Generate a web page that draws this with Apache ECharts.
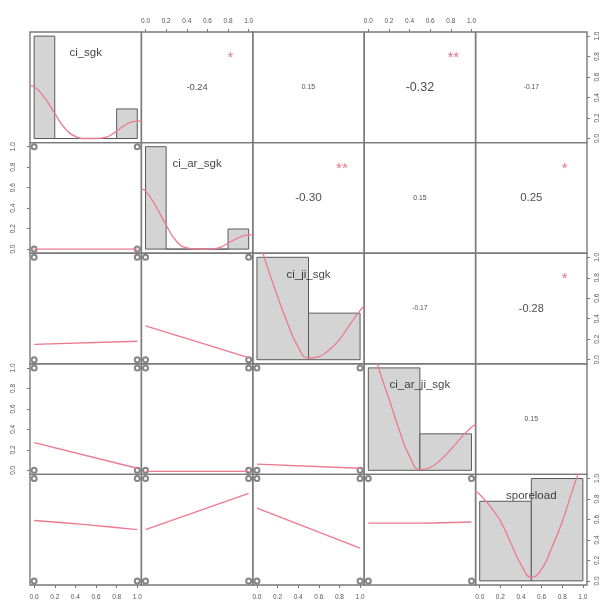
<!DOCTYPE html>
<html><head><meta charset="utf-8">
<script src="https://cdn.jsdelivr.net/npm/echarts@6/dist/echarts.min.js"></script>
<style>html,body{margin:0;padding:0;background:#fff}#c{width:604px;height:603px}</style>
</head><body><div id="c"></div>
<script>
// ---------------- data ----------------
const variables = ['ci_sgk', 'ci_ar_sgk', 'ci_ji_sgk', 'ci_ar_ji_sgk', 'sporeload'];
const tickValues = [0, 0.2, 0.4, 0.6, 0.8, 1.0];
const tickLabels = ['0.0', '0.2', '0.4', '0.6', '0.8', '1.0'];

// histogram breaks and densities (diagonal)
const histBreaks = [
  [0, 0.2, 0.4, 0.6, 0.8, 1.0],
  [0, 0.2, 0.4, 0.6, 0.8, 1.0],
  [0, 0.5, 1.0],
  [0, 0.5, 1.0],
  [0, 0.5, 1.0]
];
const histDensity = [
  [3.88, 0, 0, 0, 1.12],
  [4.18, 0, 0, 0, 0.82],
  [1.375, 0.625],
  [1.475, 0.525],
  [0.875, 1.125]
];
// kernel density curves [x, density]
const densityCi_sgk = [[-0.04, 2.0], [0, 1.96], [0.1, 1.55], [0.2, 0.95], [0.3, 0.38], [0.4, 0.08], [0.5, 0.0], [0.6, 0.0], [0.7, 0.05], [0.8, 0.28], [0.9, 0.55], [1.0, 0.66], [1.04, 0.66]];
const densityCi_ar_sgk = [[-0.04, 2.45], [0, 2.38], [0.1, 1.75], [0.2, 0.98], [0.3, 0.32], [0.4, 0.05], [0.5, 0.0], [0.6, 0.0], [0.7, 0.04], [0.8, 0.24], [0.9, 0.46], [1.0, 0.58], [1.04, 0.58]];
const densityCi_ji_sgk = [[-0.04, 1.9], [0, 1.7], [0.1, 1.25], [0.2, 0.85], [0.3, 0.48], [0.4, 0.17], [0.5, 0.02], [0.6, 0.04], [0.7, 0.13], [0.8, 0.27], [0.9, 0.47], [1.0, 0.66], [1.04, 0.72]];
const densityCi_ar_ji_sgk = [[-0.04, 2.3], [0, 2.0], [0.1, 1.47], [0.2, 1.03], [0.3, 0.58], [0.4, 0.2], [0.5, 0.01], [0.6, 0.04], [0.7, 0.15], [0.8, 0.3], [0.9, 0.47], [1.0, 0.62], [1.04, 0.66]];
const densitySporeload = [[-0.04, 0.98], [0, 0.95], [0.1, 0.82], [0.2, 0.66], [0.3, 0.42], [0.4, 0.18], [0.5, 0.04], [0.6, 0.13], [0.7, 0.37], [0.8, 0.65], [0.9, 1.0], [1.0, 1.32], [1.04, 1.45]];
const densityCurves = [densityCi_sgk, densityCi_ar_sgk, densityCi_ji_sgk, densityCi_ar_ji_sgk, densitySporeload];

// lower panels: scatter points (binary data) and smoother lines
const lowerPoints = [[0, 0], [0, 1], [1, 0], [1, 1]];
const smoothLines = [
  { row: 1, col: 0, pts: [[0, 0.0], [1, 0.0]] },
  { row: 2, col: 0, pts: [[0, 0.15], [1, 0.18]] },
  { row: 2, col: 1, pts: [[0, 0.33], [1, 0.02]] },
  { row: 3, col: 0, pts: [[0, 0.27], [1, 0.02]] },
  { row: 3, col: 1, pts: [[0, -0.01], [1, -0.01]] },
  { row: 3, col: 2, pts: [[0, 0.06], [1, 0.02]] },
  { row: 4, col: 0, pts: [[0, 0.59], [0.5, 0.55], [1, 0.50]] },
  { row: 4, col: 1, pts: [[0, 0.50], [1, 0.855]] },
  { row: 4, col: 2, pts: [[0, 0.71], [1, 0.32]] },
  { row: 4, col: 3, pts: [[0, 0.565], [0.5, 0.565], [1, 0.575]] }
];

// upper panels: correlations and significance stars
const correlations = [
  { row: 0, col: 1, r: -0.24, stars: '*' },
  { row: 0, col: 2, r: 0.15, stars: '' },
  { row: 0, col: 3, r: -0.32, stars: '**' },
  { row: 0, col: 4, r: -0.17, stars: '' },
  { row: 1, col: 2, r: -0.30, stars: '**' },
  { row: 1, col: 3, r: 0.15, stars: '' },
  { row: 1, col: 4, r: 0.25, stars: '*' },
  { row: 2, col: 3, r: -0.17, stars: '' },
  { row: 2, col: 4, r: -0.28, stars: '*' },
  { row: 3, col: 4, r: 0.15, stars: '' }
];

// ---------------- layout / style ----------------
const N = 5;
const X0 = 30, Y0 = 32, W = 111.4, H = 110.6;
const PAD = 0.04;
const FONT = '"Liberation Sans", Arial, sans-serif';
const RED = '#ec7a8e';
const BORDER = '#7a7a7a';

const grids = [], xAxes = [], yAxes = [], series = [];
const idx = (r, c) => r * N + c;
const fmt = v => tickLabels[tickValues.findIndex(t => Math.abs(t - v) < 1e-9)];

function emWidth(t) {
  let w = 0;
  for (const ch of t) w += (ch === '.') ? 0.278 : (ch === '-') ? 0.333 : 0.556;
  return w;
}
const frac = f => -PAD + f * (1 + 2 * PAD);

for (let r = 0; r < N; r++) {
  for (let c = 0; c < N; c++) {
    const i = idx(r, c);
    grids.push({ left: X0 + c * W, top: Y0 + r * H, width: W, height: H, show: true,
      borderColor: BORDER, borderWidth: 1.4, backgroundColor: 'transparent' });
    const showX = (r === 0 && c % 2 === 1) || (r === N - 1 && c % 2 === 0);
    const showY = (c === 0 && r % 2 === 1) || (c === N - 1 && r % 2 === 0);
    xAxes.push({
      gridIndex: i, type: 'value', min: -PAD, max: 1 + PAD,
      position: r === 0 ? 'top' : 'bottom',
      axisLine: { show: false, onZero: false }, splitLine: { show: false },
      axisTick: { show: showX, customValues: tickValues, length: 3, lineStyle: { color: '#777', width: 1 } },
      axisLabel: { show: showX, customValues: tickValues, fontSize: 6.5, color: '#555',
        margin: r === 0 ? 7 : 9, fontFamily: FONT, formatter: fmt }
    });
    yAxes.push({
      gridIndex: i, type: 'value', min: -PAD, max: 1 + PAD,
      position: c === 0 ? 'left' : 'right',
      axisLine: { show: false, onZero: false }, splitLine: { show: false },
      axisTick: { show: showY, customValues: tickValues, length: 3, lineStyle: { color: '#777', width: 1 } },
      axisLabel: { show: showY, customValues: tickValues, fontSize: 6.5, color: '#555', rotate: 90,
        margin: c === 0 ? 13 : 7, fontFamily: FONT, formatter: fmt }
    });
  }
}

// diagonal: histograms, density lines, labels
for (let d = 0; d < N; d++) {
  const i = idx(d, d);
  const M = Math.max(...histDensity[d]);
  const yi = yAxes.length;
  yAxes.push({ gridIndex: i, type: 'value', min: -PAD * M, max: (1 + PAD) * M, show: false,
    axisLine: { onZero: false } });
  const bars = histDensity[d].map((v, k) => [histBreaks[d][k], histBreaks[d][k + 1], v]);
  series.push({
    type: 'custom', xAxisIndex: i, yAxisIndex: yi, data: bars, silent: true,
    encode: { x: [0, 1], y: 2 },
    renderItem: (params, api) => {
      const p0 = api.coord([api.value(0), 0]);
      const p1 = api.coord([api.value(1), api.value(2)]);
      return { type: 'rect', shape: { x: p0[0], y: p1[1], width: p1[0] - p0[0], height: p0[1] - p1[1] },
        style: { fill: '#d4d4d4', stroke: '#5a5a5a', lineWidth: 1 } };
    }
  });
  series.push({
    type: 'line', xAxisIndex: i, yAxisIndex: yi, data: densityCurves[d], showSymbol: false,
    smooth: 0.5, clip: true, silent: true,
    lineStyle: { color: RED, width: 1.3 }
  });
  series.push({
    type: 'scatter', xAxisIndex: i, yAxisIndex: i, data: [[0.5, 0.8333]], symbolSize: 0, silent: true,
    label: { show: true, position: 'inside', formatter: variables[d], fontSize: 11.5, color: '#111', fontFamily: FONT }
  });
}

// lower: points + smoother
for (const s of smoothLines) {
  const i = idx(s.row, s.col);
  series.push({
    type: 'scatter', xAxisIndex: i, yAxisIndex: i, data: lowerPoints, symbol: 'emptyCircle', symbolSize: 5,
    silent: true, itemStyle: { color: '#666', borderWidth: 1 }
  });
  series.push({
    type: 'line', xAxisIndex: i, yAxisIndex: i, data: s.pts, showSymbol: false, silent: true,
    smooth: 0.3, lineStyle: { color: RED, width: 1.3 }
  });
}

// upper: correlation text + stars
for (const cr of correlations) {
  const i = idx(cr.row, cr.col);
  const txt = cr.r.toFixed(2);
  const targetW = 0.8 * Math.abs(cr.r) * W;
  const fs = targetW / emWidth(txt);
  series.push({
    type: 'scatter', xAxisIndex: i, yAxisIndex: i, data: [[frac(0.5), frac(0.5)]], symbolSize: 0, silent: true,
    label: { show: true, position: 'inside', formatter: txt, fontSize: fs, color: '#222', fontFamily: FONT }
  });
  if (cr.stars) {
    series.push({
      type: 'scatter', xAxisIndex: i, yAxisIndex: i, data: [[frac(0.8), frac(0.8)]], symbolSize: 0, silent: true,
      label: { show: true, position: 'inside', formatter: cr.stars, fontSize: 15, color: '#df536b',
        fontFamily: FONT, offset: [0, 4] }
    });
  }
}

const chart = echarts.init(document.getElementById('c'), null, { renderer: 'canvas' });
chart.setOption({
  animation: false,
  backgroundColor: '#ffffff',
  textStyle: { fontFamily: FONT },
  grid: grids, xAxis: xAxes, yAxis: yAxes, series: series
});
</script>
</body></html>
